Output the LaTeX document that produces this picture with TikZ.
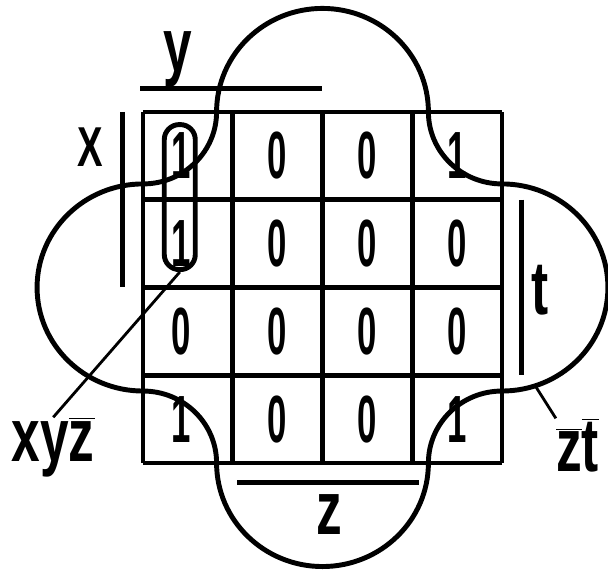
\documentclass[tikz,border=0pt]{standalone}
\usepackage{fontspec}
\setmainfont{Liberation Sans}

\begin{document}
\begin{tikzpicture}[x=1.795cm, y=1.755cm,
		outline/.style={line width=2.8pt, line join=round},
		bar/.style={line width=2.8pt},
		leader/.style={line width=1.6pt},
		digit/.style={inner sep=0pt, xscale=0.52, transform shape, font=\fontsize{38}{38}\selectfont\bfseries},
		var/.style={inner sep=0pt, xscale=0.68, transform shape, font=\fontsize{43}{43}\selectfont\bfseries}]
		% keep the page the size of the scan
		\useasboundingbox (-1.593,-1.219) rectangle (5.181,5.276);

		% 1. The 4x4 map
		\foreach \k in {0,...,4} {
			\draw[bar] (\k,0) -- (\k,4);
			\draw[bar] (0,\k) -- (4,\k);
		}

		% 2. Cell values, row by row from the top
		\foreach \row/\vals in {1/{1,0,0,1}, 2/{1,0,0,0}, 3/{0,0,0,0}, 4/{1,0,0,1}} {
			\foreach \v [count=\col] in \vals {
				\pgfmathsetmacro{\cx}{\col==1 ? 0.42 : \col-0.5}
				\node[digit] (d\row\col) at (\cx, 4.5-\row) {\v};
			}
		}

		% 3. The four-leaf outline (semicircles joined by corner arcs)
		\draw[outline] (0.82,4)
			arc[start angle=0, end angle=-90, radius=0.82]
			arc[start angle=90, end angle=270, radius=1.18]
			arc[start angle=90, end angle=0, radius=0.82]
			arc[start angle=180, end angle=360, radius=1.18]
			arc[start angle=180, end angle=90, radius=0.82]
			arc[start angle=-90, end angle=90, radius=1.18]
			arc[start angle=270, end angle=180, radius=0.82]
			arc[start angle=0, end angle=180, radius=1.18] -- cycle;

		% 4. The loop round the two ones in column 1
		\node[draw, line width=2.8pt, rounded corners=0.3cm, minimum width=0.62cm,
			minimum height=2.9cm, inner sep=0pt] (loop) at (0.41,3.03) {};

		% 5. Variable bars and their letters
		\draw[bar] (-0.03,4.27) -- (2,4.27);
		\node[var] (lbly) at (0.39,4.6) {y};
		\draw[bar] (-0.23,4) -- (-0.23,2);
		\node[var, font=\fontsize{32}{32}\selectfont\bfseries] (lblx) at (-0.59,3.6) {X};
		\draw[bar] (4.22,3) -- (4.22,1);
		\node[var] (lblt) at (4.42,1.97) {t};
		\draw[bar] (1.05,-0.22) -- (3.08,-0.22);
		\node[var] (lblz) at (2.08,-0.59) {z};

		% 6. Names of the two groups
		\node[var] (lblxyz) at (-1.0,0.18) {xy$\overline{\mbox{z}}$};
		\draw[leader] (loop.south) -- (lblxyz.north);

		\coordinate (ztpt) at (4.37,0.88);
		\node[var, anchor=west] (lblzt) at (4.6,0.2) {$\overline{\mbox{z}}\overline{\mbox{t}}$};
		\draw[leader] (ztpt) -- (lblzt.north west);
	\end{tikzpicture}
\end{document}
